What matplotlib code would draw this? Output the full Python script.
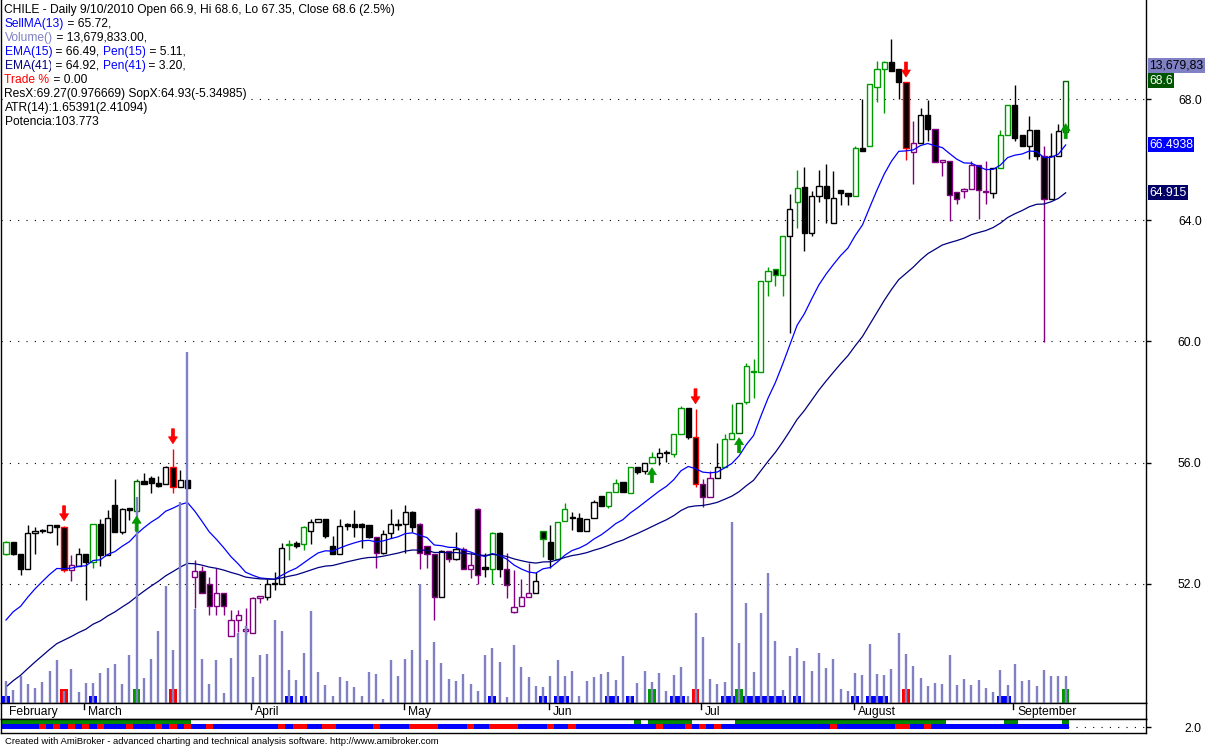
import numpy as np
import matplotlib
matplotlib.use("Agg")
import matplotlib.pyplot as plt
from matplotlib.patches import Polygon

plt.rcParams['font.family'] = ['Liberation Sans', 'DejaVu Sans']
plt.rcParams['lines.scale_dashes'] = False

# ---------------- data ----------------
opens = [
    53.0, 53.39, 53.0, 52.5, 53.69, 53.76, 53.73, 53.95, 53.89, 52.47,
    52.6, 53.0, 52.73, 53.99, 52.97, 54.61, 53.73, 54.5, 54.42, 55.41,
    55.5, 55.34, 55.31, 55.87, 55.21, 55.44, 52.24, 52.44, 52.0, 51.28,
    51.71, 50.29, 50.82, 50.46, 50.39, 51.55, 51.58, 52.0, 52.0, 53.29,
    53.36, 53.33, 53.76, 54.05, 54.15, 53.26, 53.0, 53.99, 53.99, 53.99,
    53.95, 53.56, 53.03, 53.69, 53.95, 53.99, 54.38, 53.99, 53.26, 53.0,
    51.58, 53.1, 52.83, 53.16, 52.5, 54.48, 52.57, 52.5, 53.69, 52.5,
    51.09, 51.28, 51.58, 51.71, 53.76, 53.39, 52.83, 54.09, 54.2, 54.19,
    53.76, 54.19, 54.91, 54.58, 55.04, 55.37, 55.01, 55.87, 55.73, 56.0,
    56.2, 56.33, 56.3, 56.95, 57.81, 56.86, 55.31, 54.88, 55.5, 55.87,
    56.79, 56.99, 58.01, 59.0, 59.0, 62.0, 62.39, 62.2, 63.48, 64.6,
    65.1, 63.58, 64.8, 65.13, 63.91, 65.0, 64.9, 64.8, 66.38, 66.45,
    68.4, 68.99, 69.22, 68.99, 68.56, 66.25, 66.55, 67.47, 67.01, 65.92,
    65.96, 64.93, 64.97, 65.03, 65.82, 64.93, 64.9, 65.72, 66.81, 67.8,
    66.81, 66.45, 66.98, 66.12, 64.7, 66.12, 66.9]
highs = [
    53.42, 53.4, 53.0, 53.95, 53.89, 53.82, 53.95, 53.95, 53.92, 52.97,
    53.19, 53.0, 53.99, 54.15, 54.45, 55.47, 54.5, 54.52, 55.45, 55.67,
    55.57, 55.57, 55.9, 56.46, 55.77, 55.44, 52.8, 52.6, 52.24, 52.54,
    51.71, 51.15, 51.15, 51.22, 51.58, 51.6, 52.17, 52.4, 53.36, 53.46,
    53.43, 53.9, 54.15, 54.15, 54.15, 53.59, 54.15, 54.0, 54.45, 54.0,
    53.95, 53.56, 53.79, 54.48, 54.15, 54.61, 54.4, 54.0, 53.26, 53.0,
    53.13, 53.1, 53.72, 53.23, 53.03, 54.5, 53.03, 53.7, 53.7, 53.03,
    52.47, 52.17, 52.7, 52.4, 53.76, 53.95, 54.05, 54.68, 54.38, 54.35,
    54.15, 54.78, 54.91, 55.04, 55.47, 55.37, 55.87, 55.87, 56.0, 56.36,
    56.49, 56.43, 56.95, 57.88, 57.81, 57.78, 55.47, 55.73, 56.66, 56.95,
    57.94, 57.98, 59.3, 59.43, 62.0, 62.46, 62.39, 63.48, 64.87, 65.66,
    65.76, 64.97, 65.66, 65.86, 65.63, 65.0, 64.9, 66.45, 68.0, 68.49,
    69.25, 69.25, 69.98, 68.99, 68.56, 67.27, 67.7, 67.97, 67.01, 65.99,
    65.96, 64.93, 65.06, 65.96, 65.82, 65.96, 65.72, 66.98, 67.8, 68.46,
    66.81, 67.44, 66.98, 66.45, 66.88, 67.18, 68.6]
lows = [
    52.97, 52.97, 52.31, 52.5, 53.0, 53.69, 53.69, 53.29, 52.4, 52.11,
    52.6, 51.48, 52.54, 52.6, 52.97, 53.7, 53.65, 54.12, 54.4, 55.3,
    55.01, 55.2, 55.3, 55.01, 55.2, 55.17, 51.22, 51.7, 50.99, 50.99,
    50.99, 50.29, 50.4, 50.33, 50.39, 51.38, 51.48, 51.81, 52.0, 52.8,
    53.19, 53.13, 53.33, 54.05, 53.53, 53.0, 53.0, 53.79, 53.56, 53.19,
    53.5, 52.54, 53.0, 53.53, 53.79, 53.03, 53.72, 52.5, 52.54, 50.82,
    51.58, 52.73, 52.8, 52.5, 52.21, 52.0, 52.24, 52.0, 52.24, 51.55,
    51.05, 51.28, 51.58, 51.71, 52.9, 52.54, 52.83, 54.09, 53.79, 53.76,
    53.76, 54.19, 54.58, 54.52, 55.04, 55.04, 55.01, 55.64, 55.64, 56.0,
    55.93, 56.03, 56.2, 56.95, 56.79, 55.21, 54.55, 54.88, 55.5, 55.87,
    56.79, 56.99, 57.94, 58.14, 59.0, 61.5, 61.83, 61.5, 60.28, 63.75,
    62.99, 63.48, 64.6, 63.91, 63.91, 64.51, 64.51, 64.8, 66.29, 66.45,
    67.9, 67.54, 68.92, 68.0, 65.99, 65.2, 66.55, 66.62, 65.92, 65.46,
    63.98, 64.54, 64.74, 65.03, 64.04, 64.54, 64.74, 65.72, 66.81, 66.62,
    66.45, 66.02, 65.99, 59.99, 64.7, 66.12, 67.35]
closes = [
    53.39, 53.0, 52.5, 53.69, 53.76, 53.76, 53.95, 53.89, 52.47, 52.64,
    53.0, 52.73, 53.99, 52.97, 54.19, 53.73, 54.48, 54.45, 55.41, 55.31,
    55.34, 55.24, 55.87, 55.21, 55.44, 55.17, 52.44, 51.71, 51.28, 51.71,
    51.28, 50.82, 50.99, 50.5, 51.55, 51.6, 52.0, 52.03, 53.19, 53.33,
    53.26, 53.89, 54.05, 54.15, 53.59, 53.0, 53.92, 53.92, 53.89, 53.89,
    53.56, 53.03, 53.66, 53.99, 53.99, 54.38, 53.89, 53.03, 53.0, 51.58,
    53.1, 52.83, 53.16, 52.5, 52.64, 52.31, 52.5, 53.69, 52.5, 51.98,
    51.25, 51.58, 51.71, 52.11, 53.49, 52.83, 54.05, 54.48, 54.19, 53.76,
    54.15, 54.71, 54.58, 55.04, 55.34, 55.04, 55.87, 55.7, 56.0, 56.2,
    56.33, 56.33, 56.95, 57.81, 56.86, 55.31, 54.88, 55.5, 55.87, 56.79,
    56.99, 57.98, 59.2, 59.0, 62.0, 62.33, 62.2, 63.48, 64.37, 65.07,
    63.58, 64.8, 65.13, 64.74, 64.74, 64.9, 64.8, 66.38, 66.29, 68.49,
    68.99, 69.22, 68.92, 68.56, 66.38, 66.55, 67.47, 67.01, 65.92, 65.99,
    64.83, 64.7, 65.03, 65.82, 65.0, 64.97, 65.72, 66.81, 67.8, 66.71,
    66.45, 66.98, 66.12, 64.7, 66.12, 66.93, 68.6]
# candle outline class per bar: k black, g green, G dark green, p purple, r red
candle_class = ("gkkkkkkkrp" "kkgkkkkkGk" "kkkrkkpppp" "ppppppkkkg" "kgkkkkkkkk"
                "kpkkkkkppp" "kpkpppkgkp" "pppkgkggkk" "kkkggkgkkg" "kkggkrppkg"
                "gGggggggkg" "kkkkkkkgkg" "ggkkrpkkpp" "ppppppkggk" "kkkpkkG")
# volume in millions
volume_m = [
    11.1, 6.6, 13.7, 9.6, 7.6, 10.6, 16.2, 21.8, 6.1, 17.2,
    5.6, 10.1, 10.1, 15.2, 17.7, 19.8, 9.6, 24.3, 104.4, 12.7,
    22.3, 36.5, 59.3, 26.9, 101.8, 177.8, 47.6, 22.3, 9.6, 21.8,
    5.1, 22.8, 35.5, 39.0, 13.2, 24.3, 24.8, 42.1, 36.5, 16.7,
    11.7, 25.3, 46.6, 15.7, 9.1, 3.5, 13.2, 11.1, 8.1, 3.5,
    15.7, 14.7, 2.0, 21.8, 13.7, 22.3, 26.9, 60.3, 21.8, 30.9,
    20.3, 12.2, 11.1, 14.7, 9.6, 6.1, 24.3, 27.9, 20.8, 3.0,
    29.4, 18.2, 13.2, 8.6, 8.1, 13.7, 21.8, 13.7, 16.2, 3.5,
    11.1, 13.2, 14.7, 15.7, 11.7, 23.8, 3.5, 10.1, 16.2, 10.6,
    15.2, 6.1, 14.2, 18.2, 3.5, 45.6, 33.4, 12.2, 9.6, 10.6,
    91.7, 30.4, 50.7, 15.7, 45.6, 65.9, 31.4, 6.6, 23.8, 27.9,
    21.3, 16.2, 25.3, 17.7, 22.3, 7.1, 6.1, 15.2, 14.2, 29.9,
    14.7, 14.2, 17.2, 35.5, 24.8, 18.7, 12.7, 8.6, 10.1, 9.6,
    24.3, 9.1, 12.2, 9.1, 11.7, 7.6, 5.6, 16.7, 9.1, 19.8,
    11.1, 11.7, 8.6, 16.7, 13.7, 13.7, 13.68]
blue_marker_bars = [0, 12, 39, 41, 67, 74, 76, 77, 83, 84, 86, 92, 93, 99, 100,
                    102, 103, 104, 105, 106, 107, 109, 117, 119, 120, 121, 137, 138]
sell_bars = [8, 23, 95, 124]
buy_bars = [18, 89, 101, 146]
ribbon_green_bars = list(range(0, 26)) + [87] + list(range(89, 95)) + \
    list(range(101, 130)) + [138, 139, 146]
ribbon_red_bars = [5, 7, 9, 11, 13, 17, 21, 23, 25, 28, 38, 40, 41, 44, 45, 51,
                   56, 57, 58, 59, 64, 67, 68, 69, 70, 75, 78, 90, 94, 96, 98,
                   114, 123, 124, 127]
month_names = ['February', 'March', 'April', 'May', 'Jun', 'Jul', 'August', 'September']
month_first_bar = [0, 11, 34, 55, 75, 96, 117, 139]
price_ticks = [52.0, 56.0, 60.0, 64.0, 68.0]
ema15_start = 50.81
ema41_start = 48.6

# ---------------- derived ----------------
n = len(closes)
idx = np.arange(n)


def ema(vals, period, start):
    a = 2.0 / (period + 1)
    out = [start]
    for v in vals[1:]:
        out.append(out[-1] + a * (v - out[-1]))
    return np.array(out)


ema15 = ema(closes, 15, ema15_start)
ema41 = ema(closes, 41, ema41_start)

# ---------------- layout ----------------
W, H = 1206, 746
fig = plt.figure(figsize=(W / 100, H / 100), dpi=100)
fig.patch.set_facecolor('white')


def rect(x0, y0, x1, y1):
    return [x0 / W, 1 - y1 / H, (x1 - x0) / W, (y1 - y0) / H]


XL, XR = 0.5, 1146.0
MAIN_B, DATE_B, RIB_B = 703.0, 719.0, 733.0
FIRST_PX, BAR_PX = 6.0, 7.258
PX_PER_UNIT = 30.31
xlim = ((XL - FIRST_PX) / BAR_PX, (XR - FIRST_PX) / BAR_PX)
ylim = (68 - (MAIN_B - 99) / PX_PER_UNIT, 68 + 99 / PX_PER_UNIT)
px_x = 1.0 / BAR_PX
px_y = 1.0 / PX_PER_UNIT
TICK_PAD = 36.5

ax = fig.add_axes(rect(XL, 0, XR, MAIN_B))
ax.set_xlim(*xlim)
ax.set_ylim(*ylim)
ax.spines['top'].set_visible(False)
for s in ['left', 'right', 'bottom']:
    ax.spines[s].set_linewidth(1.0)
ax.set_xticks([])
ax.yaxis.tick_right()
ax.set_yticks(price_ticks)
ax.set_yticklabels(['%.1f' % t for t in price_ticks])
ax.tick_params(axis='y', direction='out', length=3.6, width=1, pad=TICK_PAD, labelsize=8.7)
for lab in ax.get_yticklabels():
    lab.set_horizontalalignment('right')

for t in price_ticks:
    ax.axhline(t, color='black', lw=0.8, ls=(0, (0.8, 5.2)), zorder=0.5)

edge_map = {'k': 'black', 'g': '#009900', 'G': '#006400', 'p': '#800080', 'r': '#ff0000'}
ecs = [edge_map[c] for c in candle_class]
fcs = ['white' if closes[i] >= opens[i] else 'black' for i in range(n)]
bottoms = [min(opens[i], closes[i]) for i in range(n)]
heights = [max(abs(closes[i] - opens[i]), 0.03) for i in range(n)]
ax.vlines(idx, lows, highs, colors=ecs, lw=1.0, zorder=2)
ax.bar(idx, heights, 0.72, bottoms, color=fcs, edgecolor=ecs, linewidth=1.0, zorder=3)

ax.plot(idx, ema15, color='#0000ff', lw=0.9, zorder=4)
ax.plot(idx, ema41, color='#000080', lw=0.9, zorder=4)

# volume overlay with own scale
axv = fig.add_axes(rect(XL, 0, XR, MAIN_B), sharex=ax)
axv.patch.set_visible(False)
axv.axis('off')
vmax = max(volume_m)
axv.set_ylim(0, 2 * vmax)
vunit_px = 2 * vmax / MAIN_B
axv.bar(blue_marker_bars, [7 * vunit_px] * len(blue_marker_bars), 1.05, 0,
        color='#0000ff', zorder=1)
axv.bar(sell_bars, [14 * vunit_px] * len(sell_bars), 1.05, 0, color='#ff0000', zorder=1)
axv.bar(buy_bars, [14 * vunit_px] * len(buy_bars), 1.05, 0, color='#009900', zorder=1)
axv.vlines(idx, 0, volume_m, colors='#8080c4', lw=1.7, zorder=2)
axv.set_xlim(*xlim)


def arrow(x, tip, up, color):
    s = 1 if up else -1
    pts_px = [(0, 0), (4.5, 7), (1.5, 7), (1.5, 15), (-1.5, 15), (-1.5, 7), (-4.5, 7)]
    pts = [(x + dx * px_x, tip - s * dy * px_y) for dx, dy in pts_px]
    ax_pts = [axv.transData.inverted().transform(ax.transData.transform(p)) for p in pts]
    axv.add_patch(Polygon(ax_pts, closed=True, facecolor=color, edgecolor=color,
                          lw=0.5, zorder=5))


for b in sell_bars:
    arrow(b, highs[b] + 5 * px_y, False, '#ff0000')
for b in buy_bars:
    arrow(b, lows[b] - 5 * px_y, True, '#009900')

# date strip
axd = fig.add_axes(rect(XL, MAIN_B, XR, DATE_B))
axd.set_xlim(*xlim)
axd.set_ylim(0, 1)
axd.set_xticks([])
axd.set_yticks([])
for s in axd.spines.values():
    s.set_linewidth(1.0)
for name, b in zip(month_names, month_first_bar):
    xt = b - 1.5 * px_x
    if b > 0:
        axd.plot([xt, xt], [1.0, 0.6], color='black', lw=1.0)
    axd.text(xt + 4 * px_x if b > 0 else (9 - FIRST_PX) * px_x, 0.22, name,
             fontsize=8.7, va='baseline', ha='left')

# ribbon pane
axr = fig.add_axes(rect(XL, DATE_B, XR, RIB_B))
axr.set_xlim(*xlim)
axr.set_ylim(0, (RIB_B - DATE_B) / 3.0)
for s in axr.spines.values():
    s.set_linewidth(1.0)
axr.set_xticks([])
axr.yaxis.tick_right()
axr.set_yticks([2.0])
axr.set_yticklabels(['2.0'])
axr.tick_params(axis='y', direction='out', length=3.6, width=1, pad=TICK_PAD, labelsize=8.7)
for lab in axr.get_yticklabels():
    lab.set_horizontalalignment('right')
axr.axhline(2.0, color='black', lw=0.8, ls=(0, (0.8, 5.2)), zorder=0.5)
row_lo = (RIB_B - 728.5) / 3.0
row_mid = (RIB_B - 723.8) / 3.0
row_hi = (RIB_B - 719.6) / 3.0
bot_colors = ['#ff0000' if i in ribbon_red_bars else '#0000ff' for i in range(n)]
axr.bar(idx, [row_mid - row_lo] * n, 1.0, row_lo, color=bot_colors, zorder=2)
axr.bar(ribbon_green_bars, [row_hi - row_mid] * len(ribbon_green_bars), 1.0, row_mid,
        color='#008800', zorder=2)

# credit line
fig.text(5 / W, 1 - 743.5 / H,
         'Created with AmiBroker - advanced charting and technical analysis software. http://www.amibroker.com',
         fontsize=6.8, va='baseline', ha='left')

# title / info block
renderer = fig.canvas.get_renderer()
lines = [
    [('CHILE - Daily 9/10/2010 Open 66.9, Hi 68.6, Lo 67.35, Close 68.6 (2.5%)', 'black')],
    [('SellMA(13)', '#0000ff'), (' = 65.72,', 'black')],
    [('Volume()', '#8080c4'), (' = 13,679,833.00,', 'black')],
    [('EMA(15)', '#0000ff'), (' = 66.49, ', 'black'), ('Pen(15)', '#0000ff'), (' = 5.11,', 'black')],
    [('EMA(41)', '#000080'), (' = 64.92, ', 'black'), ('Pen(41)', '#0000ff'), (' = 3.20,', 'black')],
    [('Trade %', '#ff0000'), (' = 0.00', 'black')],
    [('ResX:69.27(0.976669) SopX:64.93(-5.34985)', 'black')],
    [('ATR(14):1.65391(2.41094)', 'black')],
    [('Potencia:103.773', 'black')],
]
for k, frags in enumerate(lines):
    xpx = 4.5
    base = 12.7 + 14.05 * k
    for s, col in frags:
        t = fig.text(xpx / W, 1 - base / H, s, color=col, fontsize=8.65,
                     va='baseline', ha='left',
                     bbox=dict(boxstyle='square,pad=0.05', fc='white', ec='none'))
        xpx += t.get_window_extent(renderer=renderer).width

# right value boxes


def price_to_py(p):
    return 99 + (68 - p) * PX_PER_UNIT


fig.text(1149 / W, 1 - 65.5 / H, '13,679,83', fontsize=8.7, color='black',
         va='center', ha='left',
         bbox=dict(boxstyle='square,pad=0.12', fc='#8080c4', ec='none'))
fig.text(1149 / W, 1 - price_to_py(closes[-1]) / H, '68.6', fontsize=8.7, color='white',
         va='center', ha='left',
         bbox=dict(boxstyle='square,pad=0.12', fc='#005500', ec='none'))
fig.text(1149 / W, 1 - price_to_py(66.4938) / H, '66.4938', fontsize=8.7, color='white',
         va='center', ha='left',
         bbox=dict(boxstyle='square,pad=0.12', fc='#0000ff', ec='none'))
fig.text(1149 / W, 1 - price_to_py(64.915) / H, '64.915', fontsize=8.7, color='white',
         va='center', ha='left',
         bbox=dict(boxstyle='square,pad=0.12', fc='#000066', ec='none'))

fig.savefig('out.png', dpi=100, facecolor='white')
